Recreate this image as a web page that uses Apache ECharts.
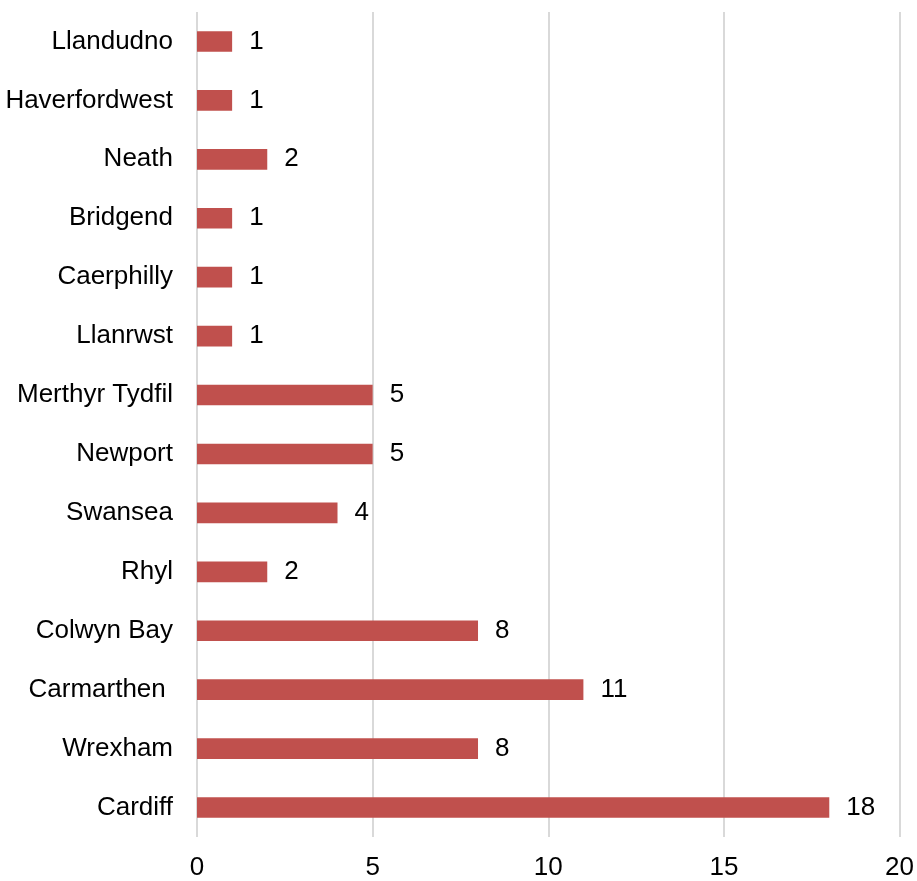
<!DOCTYPE html>
<html>
<head>
<meta charset="utf-8">
<script src="https://cdn.jsdelivr.net/npm/echarts@6/dist/echarts.min.js"></script>
<style>
  html, body { margin: 0; padding: 0; background: #fff; }
  #chart { width: 917px; height: 881px; }
</style>
</head>
<body>
<div id="chart"></div>
<script>
// towns, top to bottom as in the picture
var towns = ["Llandudno", "Haverfordwest", "Neath", "Bridgend", "Caerphilly", "Llanrwst",
  "Merthyr Tydfil", "Newport", "Swansea", "Rhyl", "Colwyn Bay", "Carmarthen ", "Wrexham", "Cardiff"];
var counts = [1, 1, 2, 1, 1, 1, 5, 5, 4, 2, 8, 11, 8, 18];
var xTicks = [0, 5, 10, 15, 20];

var chart = echarts.init(document.getElementById("chart"));
var font = "Liberation Sans, Arial, sans-serif";

var option = {
  backgroundColor: "#fff",
  animation: false,
  grid: {
    left: 197,
    right: 16,
    top: 12,
    bottom: 43,
    containLabel: false
  },
  xAxis: {
    type: "value",
    min: xTicks[0],
    max: xTicks[xTicks.length - 1],
    interval: 5,
    axisLine: { show: false },
    axisTick: { show: false },
    splitLine: {
      show: true,
      lineStyle: { color: "#d9d9d9", width: 2 }
    },
    axisLabel: {
      color: "#000",
      fontSize: 26,
      fontFamily: font,
      margin: 18
    }
  },
  yAxis: {
    type: "category",
    inverse: true,
    data: towns,
    axisLine: { show: false },
    axisTick: { show: false },
    axisLabel: {
      color: "#000",
      fontSize: 26,
      fontFamily: font,
      margin: 24,
      padding: [4, 0, 0, 0]
    }
  },
  series: [
    {
      type: "bar",
      data: counts,
      barWidth: "35%",
      itemStyle: { color: "#c0504d" },
      label: {
        show: true,
        position: "right",
        distance: 17,
        color: "#000",
        fontSize: 26,
        fontFamily: font,
        padding: [4, 0, 0, 0]
      }
    }
  ]
};

chart.setOption(option);
</script>
</body>
</html>
